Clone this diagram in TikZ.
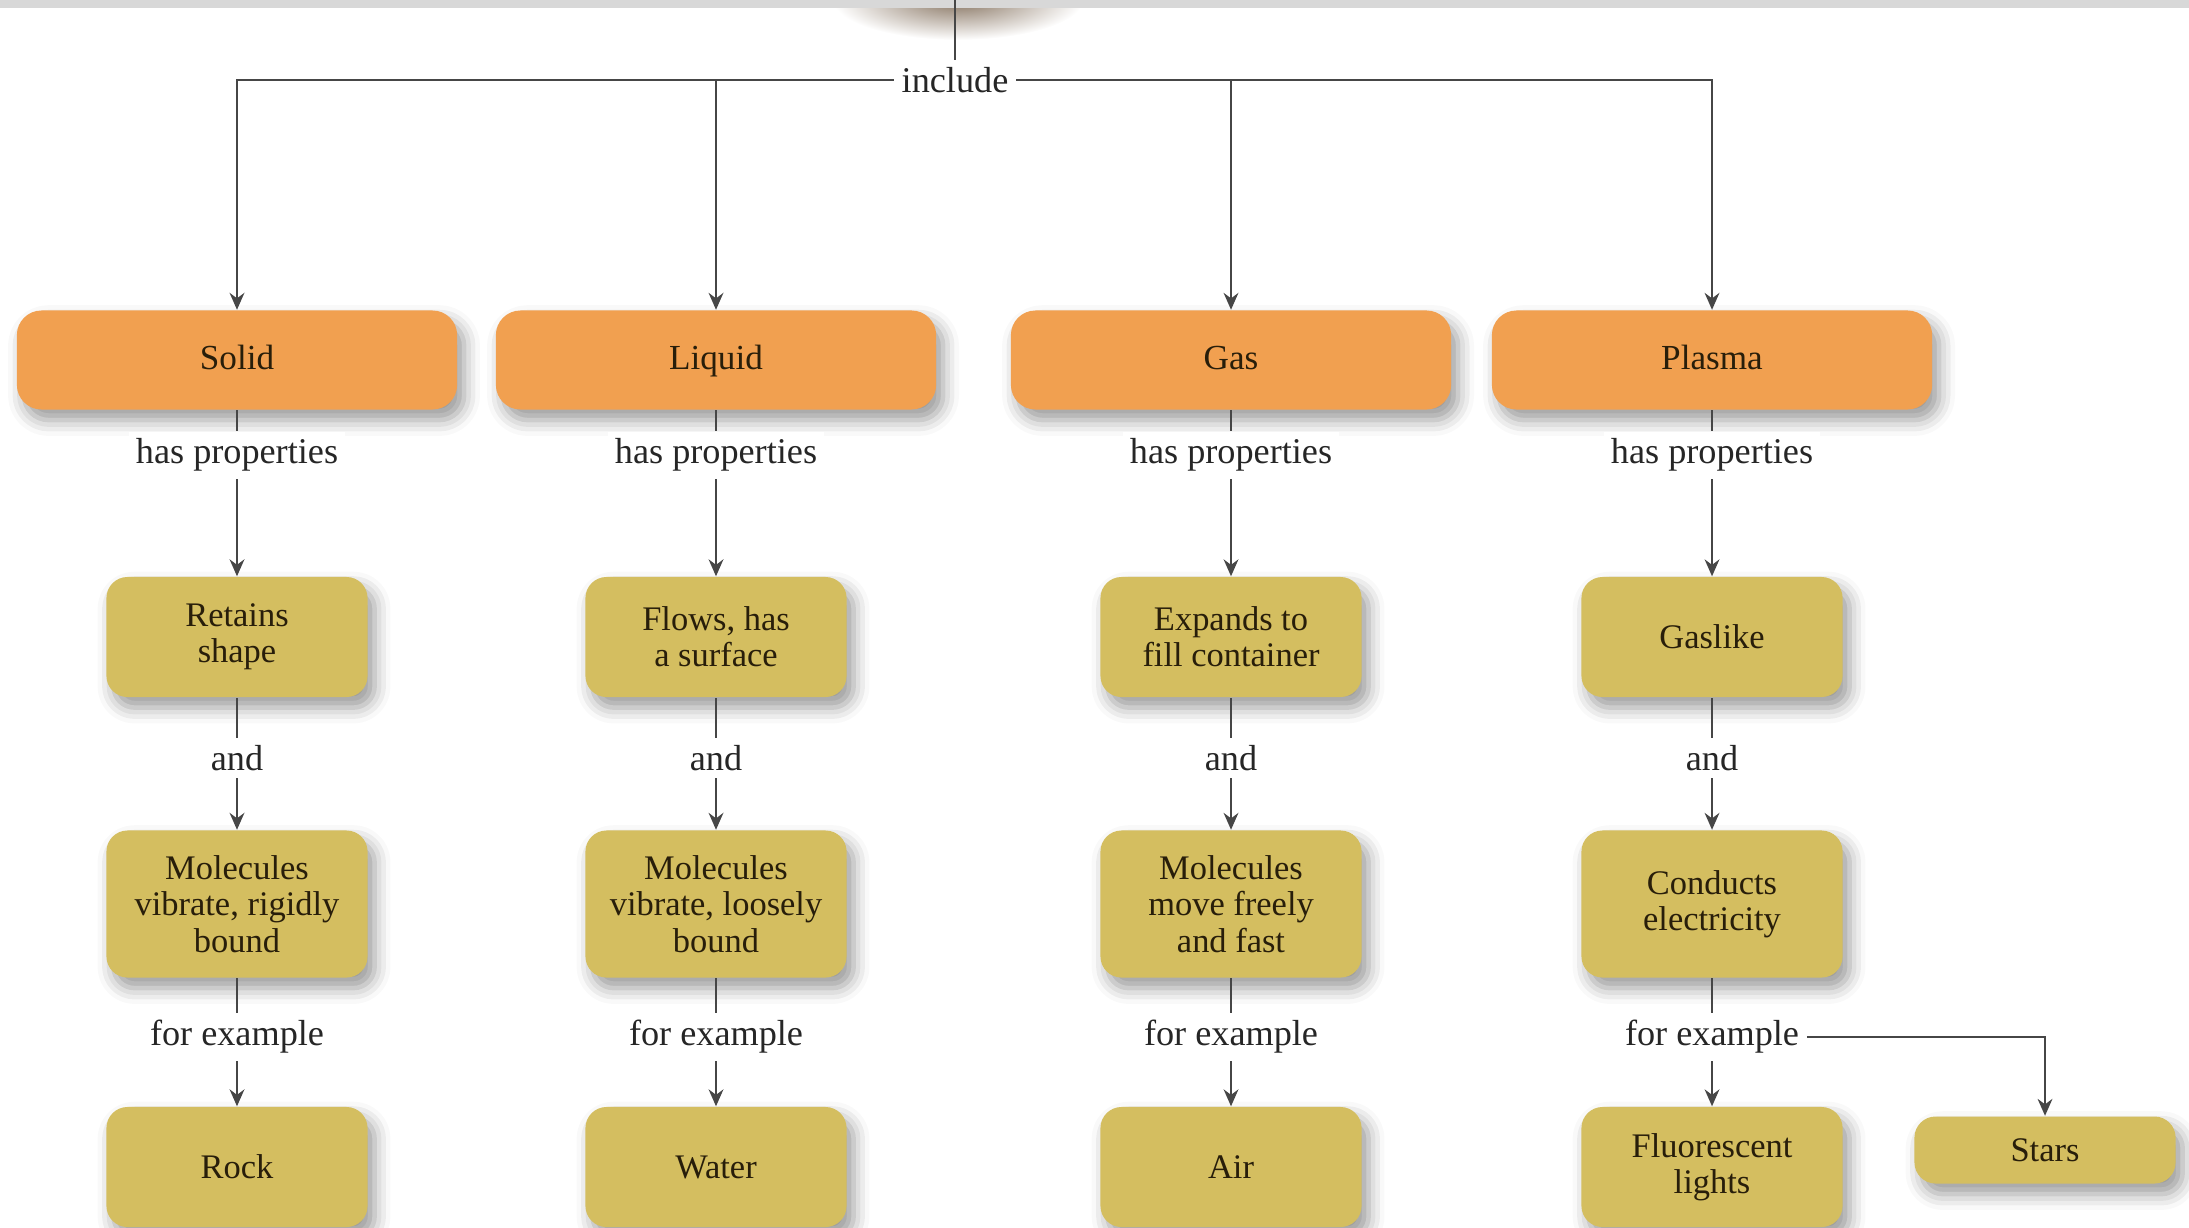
\documentclass[tikz,border=0pt]{standalone}
\usepackage{fontspec}
\setmainfont{Liberation Serif}
\usetikzlibrary{arrows.meta, positioning, shadows.blur}
\definecolor{phaseorange}{RGB}{241, 160, 80}
\definecolor{propolive}{RGB}{212, 190, 96}
\definecolor{linegray}{RGB}{70, 70, 70}
\definecolor{bandgray}{RGB}{216, 216, 216}
\definecolor{textbrown}{RGB}{40, 30, 10}

\begin{document}
\begin{tikzpicture}[x=0.01cm, y=-0.01cm,
  phase/.style={fill=phaseorange, rounded corners=7pt, minimum width=4.4cm, minimum height=0.99cm, text=textbrown, font=\fontsize{10}{10.5}\selectfont,
    text height=1.6ex, text depth=0.4ex,
    blur shadow={shadow xshift=2pt, shadow yshift=-3pt, shadow blur radius=4.5pt, shadow opacity=40}},
  prop/.style={fill=propolive, rounded corners=6pt, minimum width=2.61cm, align=center, text=textbrown, font=\fontsize{9.8}{10.3}\selectfont,
    blur shadow={shadow xshift=2pt, shadow yshift=-3pt, shadow blur radius=4.5pt, shadow opacity=40}},
  link/.style={fill=white, inner sep=2pt, text=black!85, font=\fontsize{10.3}{11}\selectfont},
  conn/.style={draw=linegray, line width=0.6pt},
  arr/.style={conn, -{Stealth[length=4.8pt, width=4.2pt]}}
]
  \useasboundingbox (0,0) rectangle (2189,1227);

  % bottom of the node above, and the page edge
  \shade[inner color=black!25!brown!40!gray, outer color=white] (958,0) ellipse (125 and 40);
  \fill[bandgray] (0,0) rectangle (2189,8);

  \coordinate (top) at (955,0);
  \node[link] (inc) at (955,80) {include};

  % states
  \node[phase] (solid) at (237,360) {Solid};
  \node[phase] (liquid) at (716,360) {Liquid};
  \node[phase] (gas) at (1231,360) {Gas};
  \node[phase] (plasma) at (1712,360) {Plasma};

  \node[link] (hp1) at (237,455) {has properties};
  \node[link] (hp2) at (716,455) {has properties};
  \node[link] (hp3) at (1231,455) {has properties};
  \node[link] (hp4) at (1712,455) {has properties};

  \node[prop, minimum height=1.2cm] (retain) at (237,637) {Retains\\shape};
  \node[prop, minimum height=1.2cm] (flows) at (716,637) {Flows, has\\a surface};
  \node[prop, minimum height=1.2cm] (expand) at (1231,637) {Expands to\\fill container};
  \node[prop, minimum height=1.2cm] (gaslike) at (1712,637) {Gaslike};

  \node[link] (and1) at (237,758) {and};
  \node[link] (and2) at (716,758) {and};
  \node[link] (and3) at (1231,758) {and};
  \node[link] (and4) at (1712,758) {and};

  \node[prop, minimum height=1.47cm] (rigid) at (237,904) {Molecules\\vibrate, rigidly\\bound};
  \node[prop, minimum height=1.47cm] (loose) at (716,904) {Molecules\\vibrate, loosely\\bound};
  \node[prop, minimum height=1.47cm] (free) at (1231,904) {Molecules\\move freely\\and fast};
  \node[prop, minimum height=1.47cm] (conduct) at (1712,904) {Conducts\\electricity};

  \node[link] (fe1) at (237,1037) {for example};
  \node[link] (fe2) at (716,1037) {for example};
  \node[link] (fe3) at (1231,1037) {for example};
  \node[link] (fe4) at (1712,1037) {for example};

  \node[prop, minimum height=1.2cm] (rock) at (237,1167) {Rock};
  \node[prop, minimum height=1.2cm] (water) at (716,1167) {Water};
  \node[prop, minimum height=1.2cm] (air) at (1231,1167) {Air};
  \node[prop, minimum height=1.2cm] (fluor) at (1712,1167) {Fluorescent\\lights};
  \node[prop, minimum height=0.67cm] (stars) at (2045,1150) {Stars};

  % connectors
  \draw[conn] (top) -- (inc);
  \draw[arr] (inc.west) -| (solid);
  \draw[arr] (inc.west) -| (liquid);
  \draw[arr] (inc.east) -| (gas);
  \draw[arr] (inc.east) -| (plasma);

  \draw[conn] (solid) -- (hp1);
  \draw[conn] (liquid) -- (hp2);
  \draw[conn] (gas) -- (hp3);
  \draw[conn] (plasma) -- (hp4);
  \draw[arr] (hp1) -- (retain);
  \draw[arr] (hp2) -- (flows);
  \draw[arr] (hp3) -- (expand);
  \draw[arr] (hp4) -- (gaslike);

  \draw[conn] (retain) -- (and1);
  \draw[conn] (flows) -- (and2);
  \draw[conn] (expand) -- (and3);
  \draw[conn] (gaslike) -- (and4);
  \draw[arr] (and1) -- (rigid);
  \draw[arr] (and2) -- (loose);
  \draw[arr] (and3) -- (free);
  \draw[arr] (and4) -- (conduct);

  \draw[conn] (rigid) -- (fe1);
  \draw[conn] (loose) -- (fe2);
  \draw[conn] (free) -- (fe3);
  \draw[conn] (conduct) -- (fe4);
  \draw[arr] (fe1) -- (rock);
  \draw[arr] (fe2) -- (water);
  \draw[arr] (fe3) -- (air);
  \draw[arr] (fe4) -- (fluor);
  \draw[arr] (fe4.east) -| (stars);
\end{tikzpicture}
\end{document}
